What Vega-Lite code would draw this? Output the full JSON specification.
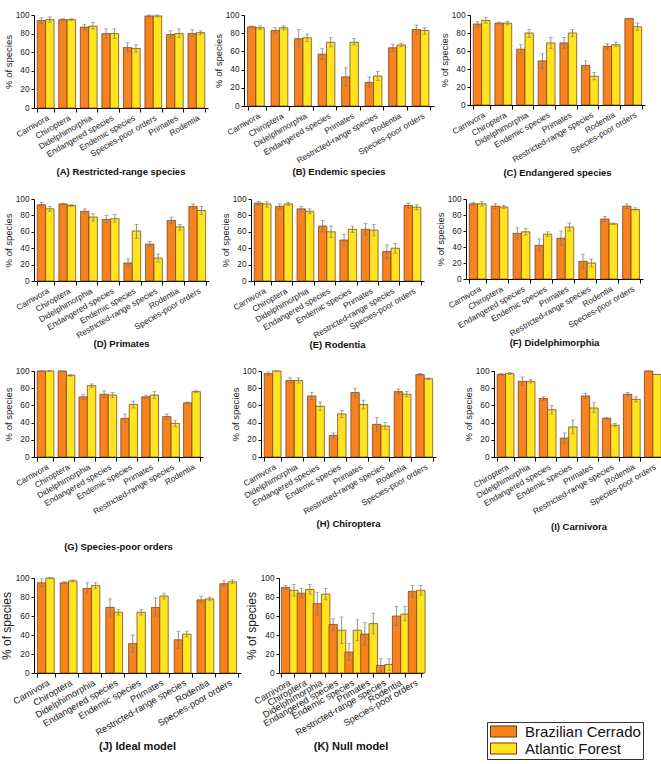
{
"$schema":"https://vega.github.io/schema/vega-lite/v6.json",
"padding":{"left":0,"top":10,"right":2,"bottom":2},
"background":"white",
"spacing":21,
"data":{"values":[
{"p":"A","c":"Carnivora","r":"Brazilian Cerrado","v":94,"lo":91,"hi":97},{"p":"A","c":"Carnivora","r":"Atlantic Forest","v":95,"lo":92,"hi":98},
{"p":"A","c":"Chiroptera","r":"Brazilian Cerrado","v":95,"lo":94,"hi":96},{"p":"A","c":"Chiroptera","r":"Atlantic Forest","v":95,"lo":94,"hi":96},
{"p":"A","c":"Didelphimorphia","r":"Brazilian Cerrado","v":87,"lo":84,"hi":90},{"p":"A","c":"Didelphimorphia","r":"Atlantic Forest","v":88,"lo":85,"hi":92},
{"p":"A","c":"Endangered species","r":"Brazilian Cerrado","v":80,"lo":75,"hi":85},{"p":"A","c":"Endangered species","r":"Atlantic Forest","v":80,"lo":75,"hi":85},
{"p":"A","c":"Endemic species","r":"Brazilian Cerrado","v":65,"lo":61,"hi":70},{"p":"A","c":"Endemic species","r":"Atlantic Forest","v":64,"lo":60,"hi":68},
{"p":"A","c":"Species-poor orders","r":"Brazilian Cerrado","v":99,"lo":98,"hi":100},{"p":"A","c":"Species-poor orders","r":"Atlantic Forest","v":99,"lo":98,"hi":100},
{"p":"A","c":"Primates","r":"Brazilian Cerrado","v":79,"lo":75,"hi":83},{"p":"A","c":"Primates","r":"Atlantic Forest","v":80,"lo":76,"hi":85},
{"p":"A","c":"Rodentia","r":"Brazilian Cerrado","v":80,"lo":77,"hi":84},{"p":"A","c":"Rodentia","r":"Atlantic Forest","v":81,"lo":79,"hi":83},

{"p":"B","c":"Carnivora","r":"Brazilian Cerrado","v":87,"lo":86,"hi":88},{"p":"B","c":"Carnivora","r":"Atlantic Forest","v":86,"lo":84,"hi":88},
{"p":"B","c":"Chiroptera","r":"Brazilian Cerrado","v":83,"lo":80,"hi":86},{"p":"B","c":"Chiroptera","r":"Atlantic Forest","v":86,"lo":84,"hi":88},
{"p":"B","c":"Didelphimorphia","r":"Brazilian Cerrado","v":74,"lo":65,"hi":84},{"p":"B","c":"Didelphimorphia","r":"Atlantic Forest","v":75,"lo":71,"hi":79},
{"p":"B","c":"Endangered species","r":"Brazilian Cerrado","v":57,"lo":51,"hi":63},{"p":"B","c":"Endangered species","r":"Atlantic Forest","v":70,"lo":65,"hi":75},
{"p":"B","c":"Primates","r":"Brazilian Cerrado","v":32,"lo":22,"hi":42},{"p":"B","c":"Primates","r":"Atlantic Forest","v":70,"lo":67,"hi":74},
{"p":"B","c":"Restricted-range species","r":"Brazilian Cerrado","v":26,"lo":20,"hi":32},{"p":"B","c":"Restricted-range species","r":"Atlantic Forest","v":33,"lo":28,"hi":38},
{"p":"B","c":"Rodentia","r":"Brazilian Cerrado","v":64,"lo":60,"hi":68},{"p":"B","c":"Rodentia","r":"Atlantic Forest","v":67,"lo":65,"hi":69},
{"p":"B","c":"Species-poor orders","r":"Brazilian Cerrado","v":84,"lo":79,"hi":89},{"p":"B","c":"Species-poor orders","r":"Atlantic Forest","v":83,"lo":79,"hi":86},

{"p":"C","c":"Carnivora","r":"Brazilian Cerrado","v":90,"lo":87,"hi":93},{"p":"C","c":"Carnivora","r":"Atlantic Forest","v":94,"lo":91,"hi":97},
{"p":"C","c":"Chiroptera","r":"Brazilian Cerrado","v":91,"lo":90,"hi":92},{"p":"C","c":"Chiroptera","r":"Atlantic Forest","v":91,"lo":89,"hi":93},
{"p":"C","c":"Didelphimorphia","r":"Brazilian Cerrado","v":62,"lo":57,"hi":67},{"p":"C","c":"Didelphimorphia","r":"Atlantic Forest","v":80,"lo":75,"hi":84},
{"p":"C","c":"Endemic species","r":"Brazilian Cerrado","v":49,"lo":41,"hi":57},{"p":"C","c":"Endemic species","r":"Atlantic Forest","v":69,"lo":63,"hi":75},
{"p":"C","c":"Primates","r":"Brazilian Cerrado","v":69,"lo":63,"hi":75},{"p":"C","c":"Primates","r":"Atlantic Forest","v":80,"lo":76,"hi":84},
{"p":"C","c":"Restricted-range species","r":"Brazilian Cerrado","v":44,"lo":39,"hi":49},{"p":"C","c":"Restricted-range species","r":"Atlantic Forest","v":32,"lo":28,"hi":36},
{"p":"C","c":"Rodentia","r":"Brazilian Cerrado","v":65,"lo":62,"hi":68},{"p":"C","c":"Rodentia","r":"Atlantic Forest","v":67,"lo":65,"hi":70},
{"p":"C","c":"Species-poor orders","r":"Brazilian Cerrado","v":96,"lo":96,"hi":96},{"p":"C","c":"Species-poor orders","r":"Atlantic Forest","v":87,"lo":83,"hi":91},

{"p":"D","c":"Carnivora","r":"Brazilian Cerrado","v":93,"lo":90,"hi":96},{"p":"D","c":"Carnivora","r":"Atlantic Forest","v":88,"lo":85,"hi":91},
{"p":"D","c":"Chiroptera","r":"Brazilian Cerrado","v":94,"lo":93,"hi":95},{"p":"D","c":"Chiroptera","r":"Atlantic Forest","v":92,"lo":91,"hi":93},
{"p":"D","c":"Didelphimorphia","r":"Brazilian Cerrado","v":85,"lo":82,"hi":88},{"p":"D","c":"Didelphimorphia","r":"Atlantic Forest","v":78,"lo":73,"hi":82},
{"p":"D","c":"Endangered species","r":"Brazilian Cerrado","v":75,"lo":71,"hi":80},{"p":"D","c":"Endangered species","r":"Atlantic Forest","v":76,"lo":72,"hi":81},
{"p":"D","c":"Endemic species","r":"Brazilian Cerrado","v":22,"lo":17,"hi":27},{"p":"D","c":"Endemic species","r":"Atlantic Forest","v":61,"lo":52,"hi":69},
{"p":"D","c":"Restricted-range species","r":"Brazilian Cerrado","v":45,"lo":42,"hi":48},{"p":"D","c":"Restricted-range species","r":"Atlantic Forest","v":28,"lo":23,"hi":33},
{"p":"D","c":"Rodentia","r":"Brazilian Cerrado","v":74,"lo":70,"hi":78},{"p":"D","c":"Rodentia","r":"Atlantic Forest","v":66,"lo":62,"hi":69},
{"p":"D","c":"Species-poor orders","r":"Brazilian Cerrado","v":91,"lo":88,"hi":94},{"p":"D","c":"Species-poor orders","r":"Atlantic Forest","v":86,"lo":81,"hi":91},

{"p":"E","c":"Carnivora","r":"Brazilian Cerrado","v":95,"lo":93,"hi":97},{"p":"E","c":"Carnivora","r":"Atlantic Forest","v":94,"lo":90,"hi":97},
{"p":"E","c":"Chiroptera","r":"Brazilian Cerrado","v":91,"lo":88,"hi":94},{"p":"E","c":"Chiroptera","r":"Atlantic Forest","v":94,"lo":92,"hi":96},
{"p":"E","c":"Didelphimorphia","r":"Brazilian Cerrado","v":88,"lo":85,"hi":91},{"p":"E","c":"Didelphimorphia","r":"Atlantic Forest","v":85,"lo":82,"hi":88},
{"p":"E","c":"Endangered species","r":"Brazilian Cerrado","v":67,"lo":60,"hi":74},{"p":"E","c":"Endangered species","r":"Atlantic Forest","v":60,"lo":53,"hi":67},
{"p":"E","c":"Endemic species","r":"Brazilian Cerrado","v":50,"lo":43,"hi":57},{"p":"E","c":"Endemic species","r":"Atlantic Forest","v":63,"lo":59,"hi":67},
{"p":"E","c":"Primates","r":"Brazilian Cerrado","v":63,"lo":56,"hi":70},{"p":"E","c":"Primates","r":"Atlantic Forest","v":62,"lo":55,"hi":69},
{"p":"E","c":"Restricted-range species","r":"Brazilian Cerrado","v":36,"lo":28,"hi":44},{"p":"E","c":"Restricted-range species","r":"Atlantic Forest","v":40,"lo":34,"hi":46},
{"p":"E","c":"Species-poor orders","r":"Brazilian Cerrado","v":92,"lo":89,"hi":95},{"p":"E","c":"Species-poor orders","r":"Atlantic Forest","v":90,"lo":87,"hi":93},

{"p":"F","c":"Carnivora","r":"Brazilian Cerrado","v":94,"lo":92,"hi":96},{"p":"F","c":"Carnivora","r":"Atlantic Forest","v":94,"lo":91,"hi":97},
{"p":"F","c":"Chiroptera","r":"Brazilian Cerrado","v":91,"lo":88,"hi":94},{"p":"F","c":"Chiroptera","r":"Atlantic Forest","v":90,"lo":88,"hi":92},
{"p":"F","c":"Endangered species","r":"Brazilian Cerrado","v":57,"lo":50,"hi":64},{"p":"F","c":"Endangered species","r":"Atlantic Forest","v":59,"lo":55,"hi":63},
{"p":"F","c":"Endemic species","r":"Brazilian Cerrado","v":42,"lo":35,"hi":50},{"p":"F","c":"Endemic species","r":"Atlantic Forest","v":56,"lo":53,"hi":59},
{"p":"F","c":"Primates","r":"Brazilian Cerrado","v":51,"lo":42,"hi":60},{"p":"F","c":"Primates","r":"Atlantic Forest","v":65,"lo":60,"hi":70},
{"p":"F","c":"Restricted-range species","r":"Brazilian Cerrado","v":22,"lo":13,"hi":31},{"p":"F","c":"Restricted-range species","r":"Atlantic Forest","v":20,"lo":15,"hi":25},
{"p":"F","c":"Rodentia","r":"Brazilian Cerrado","v":75,"lo":72,"hi":78},{"p":"F","c":"Rodentia","r":"Atlantic Forest","v":69,"lo":68,"hi":70},
{"p":"F","c":"Species-poor orders","r":"Brazilian Cerrado","v":91,"lo":88,"hi":94},{"p":"F","c":"Species-poor orders","r":"Atlantic Forest","v":87,"lo":86,"hi":89},

{"p":"G","c":"Carnivora","r":"Brazilian Cerrado","v":100,"lo":100,"hi":100},{"p":"G","c":"Carnivora","r":"Atlantic Forest","v":100,"lo":100,"hi":100},
{"p":"G","c":"Chiroptera","r":"Brazilian Cerrado","v":100,"lo":100,"hi":100},{"p":"G","c":"Chiroptera","r":"Atlantic Forest","v":95,"lo":94,"hi":96},
{"p":"G","c":"Didelphimorphia","r":"Brazilian Cerrado","v":70,"lo":67,"hi":73},{"p":"G","c":"Didelphimorphia","r":"Atlantic Forest","v":83,"lo":81,"hi":85},
{"p":"G","c":"Endangered species","r":"Brazilian Cerrado","v":73,"lo":69,"hi":77},{"p":"G","c":"Endangered species","r":"Atlantic Forest","v":72,"lo":69,"hi":75},
{"p":"G","c":"Endemic species","r":"Brazilian Cerrado","v":45,"lo":40,"hi":50},{"p":"G","c":"Endemic species","r":"Atlantic Forest","v":61,"lo":57,"hi":65},
{"p":"G","c":"Primates","r":"Brazilian Cerrado","v":70,"lo":68,"hi":72},{"p":"G","c":"Primates","r":"Atlantic Forest","v":72,"lo":68,"hi":76},
{"p":"G","c":"Restricted-range species","r":"Brazilian Cerrado","v":47,"lo":44,"hi":50},{"p":"G","c":"Restricted-range species","r":"Atlantic Forest","v":39,"lo":35,"hi":43},
{"p":"G","c":"Rodentia","r":"Brazilian Cerrado","v":63,"lo":62,"hi":64},{"p":"G","c":"Rodentia","r":"Atlantic Forest","v":76,"lo":75,"hi":77},

{"p":"H","c":"Carnivora","r":"Brazilian Cerrado","v":97,"lo":95,"hi":99},{"p":"H","c":"Carnivora","r":"Atlantic Forest","v":100,"lo":100,"hi":100},
{"p":"H","c":"Didelphimorphia","r":"Brazilian Cerrado","v":89,"lo":86,"hi":92},{"p":"H","c":"Didelphimorphia","r":"Atlantic Forest","v":89,"lo":86,"hi":92},
{"p":"H","c":"Endangered species","r":"Brazilian Cerrado","v":71,"lo":67,"hi":75},{"p":"H","c":"Endangered species","r":"Atlantic Forest","v":59,"lo":54,"hi":64},
{"p":"H","c":"Endemic species","r":"Brazilian Cerrado","v":25,"lo":22,"hi":28},{"p":"H","c":"Endemic species","r":"Atlantic Forest","v":50,"lo":46,"hi":54},
{"p":"H","c":"Primates","r":"Brazilian Cerrado","v":75,"lo":70,"hi":80},{"p":"H","c":"Primates","r":"Atlantic Forest","v":61,"lo":56,"hi":66},
{"p":"H","c":"Restricted-range species","r":"Brazilian Cerrado","v":38,"lo":30,"hi":46},{"p":"H","c":"Restricted-range species","r":"Atlantic Forest","v":36,"lo":32,"hi":40},
{"p":"H","c":"Rodentia","r":"Brazilian Cerrado","v":76,"lo":73,"hi":79},{"p":"H","c":"Rodentia","r":"Atlantic Forest","v":73,"lo":70,"hi":76},
{"p":"H","c":"Species-poor orders","r":"Brazilian Cerrado","v":96,"lo":95,"hi":97},{"p":"H","c":"Species-poor orders","r":"Atlantic Forest","v":91,"lo":90,"hi":92},

{"p":"I","c":"Chiroptera","r":"Brazilian Cerrado","v":96,"lo":95,"hi":97},{"p":"I","c":"Chiroptera","r":"Atlantic Forest","v":97,"lo":96,"hi":98},
{"p":"I","c":"Didelphimorphia","r":"Brazilian Cerrado","v":88,"lo":83,"hi":93},{"p":"I","c":"Didelphimorphia","r":"Atlantic Forest","v":88,"lo":86,"hi":90},
{"p":"I","c":"Endangered species","r":"Brazilian Cerrado","v":68,"lo":66,"hi":70},{"p":"I","c":"Endangered species","r":"Atlantic Forest","v":55,"lo":50,"hi":60},
{"p":"I","c":"Endemic species","r":"Brazilian Cerrado","v":22,"lo":16,"hi":28},{"p":"I","c":"Endemic species","r":"Atlantic Forest","v":35,"lo":27,"hi":43},
{"p":"I","c":"Primates","r":"Brazilian Cerrado","v":71,"lo":68,"hi":74},{"p":"I","c":"Primates","r":"Atlantic Forest","v":57,"lo":52,"hi":63},
{"p":"I","c":"Restricted-range species","r":"Brazilian Cerrado","v":45,"lo":44,"hi":46},{"p":"I","c":"Restricted-range species","r":"Atlantic Forest","v":37,"lo":35,"hi":39},
{"p":"I","c":"Rodentia","r":"Brazilian Cerrado","v":73,"lo":71,"hi":75},{"p":"I","c":"Rodentia","r":"Atlantic Forest","v":67,"lo":64,"hi":70},
{"p":"I","c":"Species-poor orders","r":"Brazilian Cerrado","v":100,"lo":100,"hi":100},{"p":"I","c":"Species-poor orders","r":"Atlantic Forest","v":96,"lo":96,"hi":96},

{"p":"J","c":"Carnivora","r":"Brazilian Cerrado","v":95,"lo":91,"hi":99},{"p":"J","c":"Carnivora","r":"Atlantic Forest","v":100,"lo":100,"hi":100},
{"p":"J","c":"Chiroptera","r":"Brazilian Cerrado","v":95,"lo":94,"hi":96},{"p":"J","c":"Chiroptera","r":"Atlantic Forest","v":97,"lo":96,"hi":98},
{"p":"J","c":"Didelphimorphia","r":"Brazilian Cerrado","v":89,"lo":84,"hi":95},{"p":"J","c":"Didelphimorphia","r":"Atlantic Forest","v":92,"lo":89,"hi":95},
{"p":"J","c":"Endangered species","r":"Brazilian Cerrado","v":69,"lo":60,"hi":78},{"p":"J","c":"Endangered species","r":"Atlantic Forest","v":64,"lo":61,"hi":67},
{"p":"J","c":"Endemic species","r":"Brazilian Cerrado","v":31,"lo":22,"hi":40},{"p":"J","c":"Endemic species","r":"Atlantic Forest","v":64,"lo":61,"hi":67},
{"p":"J","c":"Primates","r":"Brazilian Cerrado","v":69,"lo":60,"hi":79},{"p":"J","c":"Primates","r":"Atlantic Forest","v":81,"lo":78,"hi":84},
{"p":"J","c":"Restricted-range species","r":"Brazilian Cerrado","v":35,"lo":26,"hi":44},{"p":"J","c":"Restricted-range species","r":"Atlantic Forest","v":41,"lo":38,"hi":44},
{"p":"J","c":"Rodentia","r":"Brazilian Cerrado","v":77,"lo":74,"hi":81},{"p":"J","c":"Rodentia","r":"Atlantic Forest","v":78,"lo":76,"hi":80},
{"p":"J","c":"Species-poor orders","r":"Brazilian Cerrado","v":94,"lo":91,"hi":97},{"p":"J","c":"Species-poor orders","r":"Atlantic Forest","v":96,"lo":94,"hi":98},

{"p":"K","c":"Carnivora","r":"Brazilian Cerrado","v":90,"lo":88,"hi":92},{"p":"K","c":"Carnivora","r":"Atlantic Forest","v":87,"lo":81,"hi":93},
{"p":"K","c":"Chiroptera","r":"Brazilian Cerrado","v":84,"lo":79,"hi":89},{"p":"K","c":"Chiroptera","r":"Atlantic Forest","v":88,"lo":83,"hi":93},
{"p":"K","c":"Didelphimorphia","r":"Brazilian Cerrado","v":73,"lo":61,"hi":85},{"p":"K","c":"Didelphimorphia","r":"Atlantic Forest","v":83,"lo":77,"hi":89},
{"p":"K","c":"Endangered species","r":"Brazilian Cerrado","v":51,"lo":45,"hi":57},{"p":"K","c":"Endangered species","r":"Atlantic Forest","v":45,"lo":31,"hi":59},
{"p":"K","c":"Endemic species","r":"Brazilian Cerrado","v":22,"lo":13,"hi":31},{"p":"K","c":"Endemic species","r":"Atlantic Forest","v":45,"lo":34,"hi":56},
{"p":"K","c":"Primates","r":"Brazilian Cerrado","v":41,"lo":29,"hi":53},{"p":"K","c":"Primates","r":"Atlantic Forest","v":52,"lo":41,"hi":63},
{"p":"K","c":"Restricted-range species","r":"Brazilian Cerrado","v":8,"lo":1,"hi":15},{"p":"K","c":"Restricted-range species","r":"Atlantic Forest","v":9,"lo":3,"hi":15},
{"p":"K","c":"Rodentia","r":"Brazilian Cerrado","v":60,"lo":50,"hi":70},{"p":"K","c":"Rodentia","r":"Atlantic Forest","v":62,"lo":55,"hi":70},
{"p":"K","c":"Species-poor orders","r":"Brazilian Cerrado","v":86,"lo":80,"hi":92},{"p":"K","c":"Species-poor orders","r":"Atlantic Forest","v":87,"lo":82,"hi":92}
]},
"vconcat":[
{"spacing":16,"vconcat":[
 {"bounds":"flush","spacing":36,"hconcat":[
  {"width":174,"height":93,"title":{"text":"(A) Restricted-range species","orient":"bottom","frame":"group","offset":9},
   "transform":[{"filter":"datum.p==='A'"}],
   "encoding":{"x":{"field":"c","type":"nominal","title":null,"sort":["Carnivora","Chiroptera","Didelphimorphia","Endangered species","Endemic species","Species-poor orders","Primates","Rodentia"],"scale":{"paddingInner":0.22,"paddingOuter":0.15}},"xOffset":{"field":"r","type":"nominal","sort":["Brazilian Cerrado","Atlantic Forest"]}},
   "layer":[
    {"mark":{"type":"bar","stroke":"#6b3a12","strokeWidth":0.7},"encoding":{"y":{"field":"v","type":"quantitative","title":"% of species","scale":{"domain":[0,100],"nice":false}},"color":{"field":"r","type":"nominal","title":null,"scale":{"domain":["Brazilian Cerrado","Atlantic Forest"],"range":["#F7821E","#FFE41F"]}}}},
    {"mark":{"type":"rule","color":"#777","strokeWidth":0.8},"encoding":{"y":{"field":"lo","type":"quantitative","title":"% of species"},"y2":{"field":"hi"}}},
    {"mark":{"type":"tick","color":"#777","size":4,"thickness":0.8},"encoding":{"y":{"field":"lo","type":"quantitative","title":"% of species"}}},
    {"mark":{"type":"tick","color":"#777","size":4,"thickness":0.8},"encoding":{"y":{"field":"hi","type":"quantitative","title":"% of species"}}}
   ]},
  {"width":190,"height":91,"title":{"text":"(B) Endemic species","orient":"bottom","frame":"group","offset":3},
   "transform":[{"filter":"datum.p==='B'"}],
   "encoding":{"x":{"field":"c","type":"nominal","title":null,"scale":{"paddingInner":0.22,"paddingOuter":0.15}},"xOffset":{"field":"r","type":"nominal","sort":["Brazilian Cerrado","Atlantic Forest"]}},
   "layer":[
    {"mark":{"type":"bar","stroke":"#6b3a12","strokeWidth":0.7},"encoding":{"y":{"field":"v","type":"quantitative","title":"% of species","scale":{"domain":[0,100],"nice":false}},"color":{"field":"r","type":"nominal","title":null,"scale":{"domain":["Brazilian Cerrado","Atlantic Forest"],"range":["#F7821E","#FFE41F"]}}}},
    {"mark":{"type":"rule","color":"#777","strokeWidth":0.8},"encoding":{"y":{"field":"lo","type":"quantitative","title":"% of species"},"y2":{"field":"hi"}}},
    {"mark":{"type":"tick","color":"#777","size":4,"thickness":0.8},"encoding":{"y":{"field":"lo","type":"quantitative","title":"% of species"}}},
    {"mark":{"type":"tick","color":"#777","size":4,"thickness":0.8},"encoding":{"y":{"field":"hi","type":"quantitative","title":"% of species"}}}
   ]},
  {"width":175,"height":90,"title":{"text":"(C) Endangered species","orient":"bottom","frame":"group","offset":5},
   "transform":[{"filter":"datum.p==='C'"}],
   "encoding":{"x":{"field":"c","type":"nominal","title":null,"scale":{"paddingInner":0.22,"paddingOuter":0.15}},"xOffset":{"field":"r","type":"nominal","sort":["Brazilian Cerrado","Atlantic Forest"]}},
   "layer":[
    {"mark":{"type":"bar","stroke":"#6b3a12","strokeWidth":0.7},"encoding":{"y":{"field":"v","type":"quantitative","title":"% of species","scale":{"domain":[0,100],"nice":false}},"color":{"field":"r","type":"nominal","title":null,"scale":{"domain":["Brazilian Cerrado","Atlantic Forest"],"range":["#F7821E","#FFE41F"]}}}},
    {"mark":{"type":"rule","color":"#777","strokeWidth":0.8},"encoding":{"y":{"field":"lo","type":"quantitative","title":"% of species"},"y2":{"field":"hi"}}},
    {"mark":{"type":"tick","color":"#777","size":4,"thickness":0.8},"encoding":{"y":{"field":"lo","type":"quantitative","title":"% of species"}}},
    {"mark":{"type":"tick","color":"#777","size":4,"thickness":0.8},"encoding":{"y":{"field":"hi","type":"quantitative","title":"% of species"}}}
   ]}
 ]},
 {"bounds":"flush","spacing":42,"hconcat":[
  {"width":175,"height":82,"title":{"text":"(D) Primates","orient":"bottom","frame":"group","offset":0},
   "transform":[{"filter":"datum.p==='D'"}],
   "encoding":{"x":{"field":"c","type":"nominal","title":null,"scale":{"paddingInner":0.22,"paddingOuter":0.15}},"xOffset":{"field":"r","type":"nominal","sort":["Brazilian Cerrado","Atlantic Forest"]}},
   "layer":[
    {"mark":{"type":"bar","stroke":"#6b3a12","strokeWidth":0.7},"encoding":{"y":{"field":"v","type":"quantitative","title":"% of species","scale":{"domain":[0,100],"nice":false}},"color":{"field":"r","type":"nominal","title":null,"scale":{"domain":["Brazilian Cerrado","Atlantic Forest"],"range":["#F7821E","#FFE41F"]}}}},
    {"mark":{"type":"rule","color":"#777","strokeWidth":0.8},"encoding":{"y":{"field":"lo","type":"quantitative","title":"% of species"},"y2":{"field":"hi"}}},
    {"mark":{"type":"tick","color":"#777","size":4,"thickness":0.8},"encoding":{"y":{"field":"lo","type":"quantitative","title":"% of species"}}},
    {"mark":{"type":"tick","color":"#777","size":4,"thickness":0.8},"encoding":{"y":{"field":"hi","type":"quantitative","title":"% of species"}}}
   ]},
  {"width":173,"height":82,"title":{"text":"(E) Rodentia","orient":"bottom","frame":"group","offset":1},
   "transform":[{"filter":"datum.p==='E'"}],
   "encoding":{"x":{"field":"c","type":"nominal","title":null,"scale":{"paddingInner":0.22,"paddingOuter":0.15}},"xOffset":{"field":"r","type":"nominal","sort":["Brazilian Cerrado","Atlantic Forest"]}},
   "layer":[
    {"mark":{"type":"bar","stroke":"#6b3a12","strokeWidth":0.7},"encoding":{"y":{"field":"v","type":"quantitative","title":"% of species","scale":{"domain":[0,100],"nice":false}},"color":{"field":"r","type":"nominal","title":null,"scale":{"domain":["Brazilian Cerrado","Atlantic Forest"],"range":["#F7821E","#FFE41F"]}}}},
    {"mark":{"type":"rule","color":"#777","strokeWidth":0.8},"encoding":{"y":{"field":"lo","type":"quantitative","title":"% of species"},"y2":{"field":"hi"}}},
    {"mark":{"type":"tick","color":"#777","size":4,"thickness":0.8},"encoding":{"y":{"field":"lo","type":"quantitative","title":"% of species"}}},
    {"mark":{"type":"tick","color":"#777","size":4,"thickness":0.8},"encoding":{"y":{"field":"hi","type":"quantitative","title":"% of species"}}}
   ]},
  {"width":177,"height":80,"title":{"text":"(F) Didelphimorphia","orient":"bottom","frame":"group","offset":1},
   "transform":[{"filter":"datum.p==='F'"}],
   "encoding":{"x":{"field":"c","type":"nominal","title":null,"scale":{"paddingInner":0.22,"paddingOuter":0.15}},"xOffset":{"field":"r","type":"nominal","sort":["Brazilian Cerrado","Atlantic Forest"]}},
   "layer":[
    {"mark":{"type":"bar","stroke":"#6b3a12","strokeWidth":0.7},"encoding":{"y":{"field":"v","type":"quantitative","title":"% of species","scale":{"domain":[0,100],"nice":false}},"color":{"field":"r","type":"nominal","title":null,"scale":{"domain":["Brazilian Cerrado","Atlantic Forest"],"range":["#F7821E","#FFE41F"]}}}},
    {"mark":{"type":"rule","color":"#777","strokeWidth":0.8},"encoding":{"y":{"field":"lo","type":"quantitative","title":"% of species"},"y2":{"field":"hi"}}},
    {"mark":{"type":"tick","color":"#777","size":4,"thickness":0.8},"encoding":{"y":{"field":"lo","type":"quantitative","title":"% of species"}}},
    {"mark":{"type":"tick","color":"#777","size":4,"thickness":0.8},"encoding":{"y":{"field":"hi","type":"quantitative","title":"% of species"}}}
   ]}
 ]},
 {"bounds":"flush","spacing":58,"hconcat":[
  {"width":169,"height":86,"title":{"text":"(G) Species-poor orders","orient":"bottom","frame":"group","offset":27},
   "transform":[{"filter":"datum.p==='G'"}],
   "encoding":{"x":{"field":"c","type":"nominal","title":null,"scale":{"paddingInner":0.22,"paddingOuter":0.15}},"xOffset":{"field":"r","type":"nominal","sort":["Brazilian Cerrado","Atlantic Forest"]}},
   "layer":[
    {"mark":{"type":"bar","stroke":"#6b3a12","strokeWidth":0.7},"encoding":{"y":{"field":"v","type":"quantitative","title":"% of species","scale":{"domain":[0,100],"nice":false}},"color":{"field":"r","type":"nominal","title":null,"scale":{"domain":["Brazilian Cerrado","Atlantic Forest"],"range":["#F7821E","#FFE41F"]}}}},
    {"mark":{"type":"rule","color":"#777","strokeWidth":0.8},"encoding":{"y":{"field":"lo","type":"quantitative","title":"% of species"},"y2":{"field":"hi"}}},
    {"mark":{"type":"tick","color":"#777","size":4,"thickness":0.8},"encoding":{"y":{"field":"lo","type":"quantitative","title":"% of species"}}},
    {"mark":{"type":"tick","color":"#777","size":4,"thickness":0.8},"encoding":{"y":{"field":"hi","type":"quantitative","title":"% of species"}}}
   ]},
  {"width":175,"height":86,"title":{"text":"(H) Chiroptera","orient":"bottom","frame":"group","offset":4},
   "transform":[{"filter":"datum.p==='H'"}],
   "encoding":{"x":{"field":"c","type":"nominal","title":null,"scale":{"paddingInner":0.22,"paddingOuter":0.15}},"xOffset":{"field":"r","type":"nominal","sort":["Brazilian Cerrado","Atlantic Forest"]}},
   "layer":[
    {"mark":{"type":"bar","stroke":"#6b3a12","strokeWidth":0.7},"encoding":{"y":{"field":"v","type":"quantitative","title":"% of species","scale":{"domain":[0,100],"nice":false}},"color":{"field":"r","type":"nominal","title":null,"scale":{"domain":["Brazilian Cerrado","Atlantic Forest"],"range":["#F7821E","#FFE41F"]}}}},
    {"mark":{"type":"rule","color":"#777","strokeWidth":0.8},"encoding":{"y":{"field":"lo","type":"quantitative","title":"% of species"},"y2":{"field":"hi"}}},
    {"mark":{"type":"tick","color":"#777","size":4,"thickness":0.8},"encoding":{"y":{"field":"lo","type":"quantitative","title":"% of species"}}},
    {"mark":{"type":"tick","color":"#777","size":4,"thickness":0.8},"encoding":{"y":{"field":"hi","type":"quantitative","title":"% of species"}}}
   ]},
  {"width":170,"height":86,"title":{"text":"(I) Carnivora","orient":"bottom","frame":"group","offset":7},
   "transform":[{"filter":"datum.p==='I'"}],
   "encoding":{"x":{"field":"c","type":"nominal","title":null,"scale":{"paddingInner":0.22,"paddingOuter":0.15}},"xOffset":{"field":"r","type":"nominal","sort":["Brazilian Cerrado","Atlantic Forest"]}},
   "layer":[
    {"mark":{"type":"bar","stroke":"#6b3a12","strokeWidth":0.7},"encoding":{"y":{"field":"v","type":"quantitative","title":"% of species","scale":{"domain":[0,100],"nice":false}},"color":{"field":"r","type":"nominal","title":null,"scale":{"domain":["Brazilian Cerrado","Atlantic Forest"],"range":["#F7821E","#FFE41F"]}}}},
    {"mark":{"type":"rule","color":"#777","strokeWidth":0.8},"encoding":{"y":{"field":"lo","type":"quantitative","title":"% of species"},"y2":{"field":"hi"}}},
    {"mark":{"type":"tick","color":"#777","size":4,"thickness":0.8},"encoding":{"y":{"field":"lo","type":"quantitative","title":"% of species"}}},
    {"mark":{"type":"tick","color":"#777","size":4,"thickness":0.8},"encoding":{"y":{"field":"hi","type":"quantitative","title":"% of species"}}}
   ]}
 ]}
]},
{"bounds":"flush","spacing":38,"hconcat":[
  {"width":207,"height":95,"title":{"text":"(J) Ideal model","orient":"bottom","frame":"group","offset":4,"fontSize":11},
   "transform":[{"filter":"datum.p==='J'"}],
   "encoding":{"x":{"field":"c","type":"nominal","title":null,"axis":{"labelFontSize":9.3},"scale":{"paddingInner":0.22,"paddingOuter":0.15}},"xOffset":{"field":"r","type":"nominal","sort":["Brazilian Cerrado","Atlantic Forest"]}},
   "layer":[
    {"mark":{"type":"bar","stroke":"#6b3a12","strokeWidth":0.7},"encoding":{"y":{"field":"v","type":"quantitative","title":"% of species","axis":{"titleFontSize":12},"scale":{"domain":[0,100],"nice":false}},"color":{"field":"r","type":"nominal","title":null,"scale":{"domain":["Brazilian Cerrado","Atlantic Forest"],"range":["#F7821E","#FFE41F"]}}}},
    {"mark":{"type":"rule","color":"#777","strokeWidth":0.8},"encoding":{"y":{"field":"lo","type":"quantitative","title":"% of species"},"y2":{"field":"hi"}}},
    {"mark":{"type":"tick","color":"#777","size":4,"thickness":0.8},"encoding":{"y":{"field":"lo","type":"quantitative","title":"% of species"}}},
    {"mark":{"type":"tick","color":"#777","size":4,"thickness":0.8},"encoding":{"y":{"field":"hi","type":"quantitative","title":"% of species"}}}
   ]},
  {"width":144,"height":95,"title":{"text":"(K) Null model","orient":"bottom","frame":"group","offset":4,"fontSize":11},
   "transform":[{"filter":"datum.p==='K'"}],
   "encoding":{"x":{"field":"c","type":"nominal","title":null,"axis":{"labelFontSize":9.3},"scale":{"paddingInner":0.22,"paddingOuter":0.15}},"xOffset":{"field":"r","type":"nominal","sort":["Brazilian Cerrado","Atlantic Forest"]}},
   "layer":[
    {"mark":{"type":"bar","stroke":"#6b3a12","strokeWidth":0.7},"encoding":{"y":{"field":"v","type":"quantitative","title":"% of species","axis":{"titleFontSize":12},"scale":{"domain":[0,100],"nice":false}},"color":{"field":"r","type":"nominal","title":null,"scale":{"domain":["Brazilian Cerrado","Atlantic Forest"],"range":["#F7821E","#FFE41F"]}}}},
    {"mark":{"type":"rule","color":"#777","strokeWidth":0.8},"encoding":{"y":{"field":"lo","type":"quantitative","title":"% of species"},"y2":{"field":"hi"}}},
    {"mark":{"type":"tick","color":"#777","size":4,"thickness":0.8},"encoding":{"y":{"field":"lo","type":"quantitative","title":"% of species"}}},
    {"mark":{"type":"tick","color":"#777","size":4,"thickness":0.8},"encoding":{"y":{"field":"hi","type":"quantitative","title":"% of species"}}}
   ]}
]}
],
"config":{
 "view":{"stroke":null},
 "font":"Liberation Sans",
 "axis":{"grid":false,"domainColor":"#000","tickColor":"#000","labelColor":"#222","labelFontSize":8.3,"titleFontSize":9.5,"titleFontWeight":"normal","titleColor":"#222","labelFont":"Liberation Sans","titleFont":"Liberation Sans"},
 "axisX":{"labelAngle":-30,"tickBand":"extent","tickSize":4,"labelPadding":1},
 "axisY":{"tickSize":3,"labelPadding":2,"tickCount":5,"titlePadding":2},
 "title":{"fontSize":9.5,"fontWeight":"bold","font":"Liberation Sans","color":"#111","anchor":"middle"},
 "legend":{"orient":"none","legendX":453,"legendY":707,"strokeColor":"#333","fillColor":"#fff","padding":2,"symbolType":"M-2,-0.85H2V0.85H-2Z","symbolSize":169,"symbolOffset":7,"symbolStrokeColor":"#6b3a12","symbolStrokeWidth":1,"labelFontSize":15,"labelFont":"Liberation Sans","labelColor":"#111","rowPadding":0,"labelOffset":14}
}
}
